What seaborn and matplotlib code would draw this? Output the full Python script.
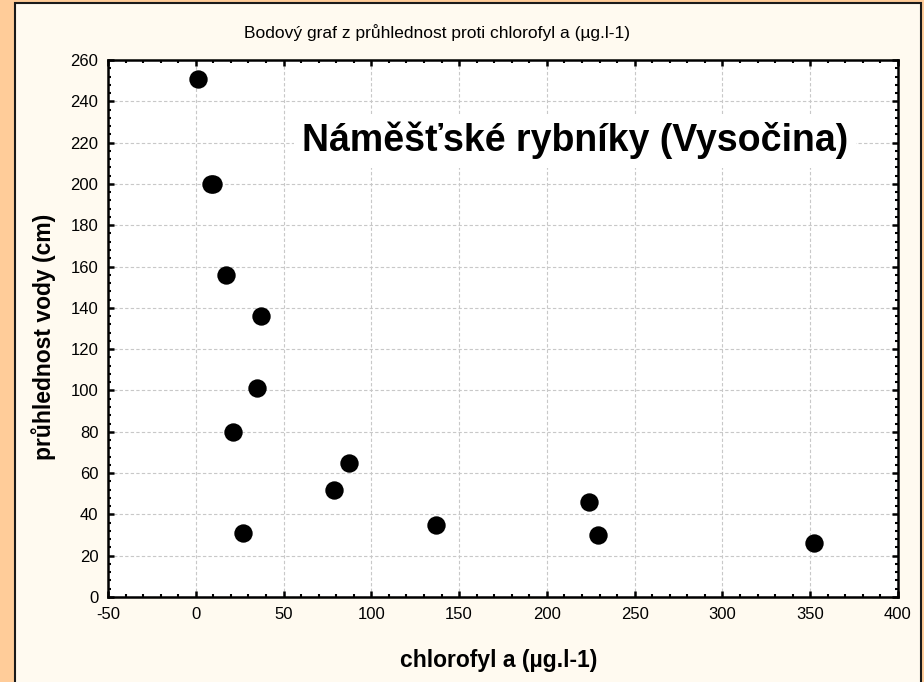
import numpy as np
import pandas as pd
import matplotlib
matplotlib.use("Agg")
import matplotlib.pyplot as plt
from matplotlib.patches import Rectangle
from matplotlib.ticker import AutoMinorLocator
import seaborn as sns

# data
chlorofyl = [1, 8.5, 10, 17, 37, 35, 21, 87, 79, 27, 137, 224, 229, 352]
pruhlednost = [251, 200, 200, 156, 136, 101, 80, 65, 52, 31, 35, 46, 30, 26]

x_ticks = [-50, 0, 50, 100, 150, 200, 250, 300, 350, 400]
y_ticks = list(range(0, 261, 20))

df = pd.DataFrame({"chlorofyl": chlorofyl, "pruhlednost": pruhlednost})

sns.set_theme(style="white")
plt.rcParams["font.family"] = ["Liberation Sans", "DejaVu Sans"]
plt.rcParams["axes.unicode_minus"] = False
plt.rcParams["text.color"] = "black"
plt.rcParams["axes.labelcolor"] = "black"
plt.rcParams["xtick.color"] = "black"
plt.rcParams["ytick.color"] = "black"

fig = plt.figure(figsize=(9.24, 6.82), dpi=100)
fig.patch.set_facecolor("#FFCC99")
# cream panel
fig.add_artist(Rectangle((15 / 924, -0.01), 906 / 924, 1 - 3 / 682 + 0.01,
                         transform=fig.transFigure, facecolor="#FFFAF0",
                         edgecolor="#1a1a1a", linewidth=1.5, zorder=0))

ax = fig.add_axes([108 / 924, 85 / 682, 790 / 924, 537 / 682])
ax.set_facecolor("white")

sns.scatterplot(data=df, x="chlorofyl", y="pruhlednost", ax=ax, s=175,
                color="black", edgecolor="black", linewidth=0, zorder=3)

ax.set_xlim(-50, 400)
ax.set_ylim(0, 260)
ax.set_xticks(x_ticks)
ax.set_yticks(y_ticks)
ax.xaxis.set_minor_locator(AutoMinorLocator(5))
ax.yaxis.set_minor_locator(AutoMinorLocator(5))
ax.grid(True, which="major", linestyle=(0, (3, 2)), color="#c8c8c8", linewidth=0.8, zorder=0)
ax.set_axisbelow(True)

for sp in ax.spines.values():
    sp.set_visible(True)
    sp.set_color("black")
    sp.set_linewidth(1.8)

ax.tick_params(which="both", direction="in", top=True, right=True, bottom=True, left=True,
               colors="black", labelsize=12, labelcolor="black")
ax.tick_params(which="major", length=4, width=1.8, pad=7)
ax.tick_params(which="minor", length=2, width=1.5)

ax.set_xlabel("chlorofyl a (µg.l-1)", fontsize=16.5, fontweight="bold")
ax.set_ylabel("průhlednost vody (cm)", fontsize=16.5, fontweight="bold")
ax.xaxis.set_label_coords(0.494, -0.119)
ax.yaxis.set_label_coords(-0.082, 0.484)
ax.xaxis.label.set_va("center")
ax.yaxis.label.set_va("center")

ax.text(216, 221, "Náměšťské rybníky (Vysočina)", fontsize=27, fontweight="bold",
        ha="center", va="center", zorder=4, color="black",
        bbox=dict(facecolor="white", edgecolor="none", pad=6))

fig.text(437 / 924, 1 - 33 / 682, "Bodový graf z průhlednost proti chlorofyl a (µg.l-1)",
         fontsize=12.5, ha="center", va="center")

fig.savefig("out.png", dpi=100, facecolor=fig.get_facecolor())
